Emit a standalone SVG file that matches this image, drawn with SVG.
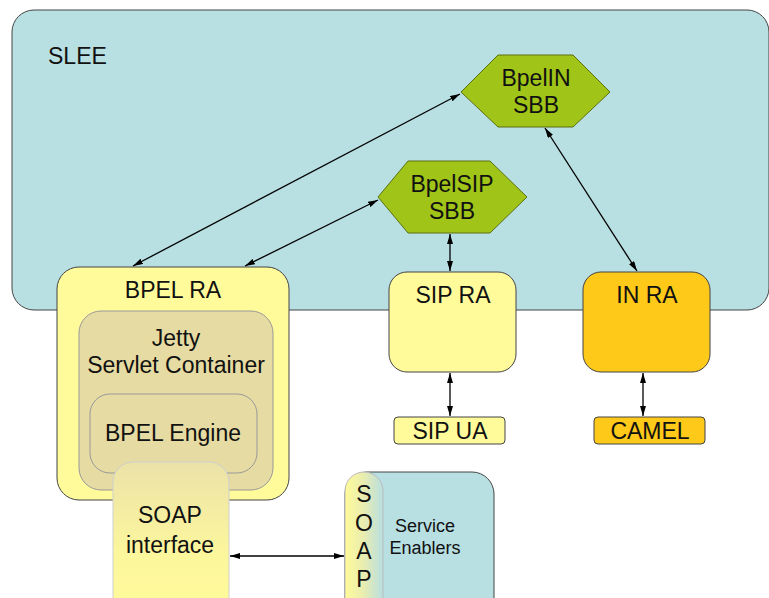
<svg xmlns="http://www.w3.org/2000/svg" width="769" height="598" viewBox="0 0 769 598">
<defs>
<marker id="ah" viewBox="0 0 10 6" refX="10" refY="3" markerWidth="10" markerHeight="6" markerUnits="userSpaceOnUse" orient="auto-start-reverse">
<path d="M0,0 L10,3 L0,6 z" fill="#000"/>
</marker>
<linearGradient id="soapV" x1="0" y1="0" x2="0" y2="1">
<stop offset="0" stop-color="#ebe2a8"/>
<stop offset="0.6" stop-color="#fdf79c"/>
<stop offset="1" stop-color="#fffb9a"/>
</linearGradient>
<linearGradient id="soapH" x1="0" y1="0" x2="1" y2="0">
<stop offset="0" stop-color="#fffb9a"/>
<stop offset="0.5" stop-color="#e8ecb0"/>
<stop offset="1" stop-color="#b8dfe2"/>
</linearGradient>
<style>
text{font-family:"Liberation Sans",Arial,sans-serif;fill:#111;}
.t{font-size:23px;text-anchor:middle;}
.s{font-size:18px;text-anchor:middle;}
.blue{fill:#b8dfe2;stroke:#444;stroke-width:1;}
.hex{fill:#a0c418;stroke:#5c7012;stroke-width:1;}
.yel{fill:#fffb9b;stroke:#444;stroke-width:1;}
.org{fill:#fec918;stroke:#444;stroke-width:1;}
.beige{fill:#e6dba2;stroke:#999;stroke-width:1;}
.conn{stroke:#000;stroke-width:1.3;fill:none;marker-start:url(#ah);marker-end:url(#ah);}
</style>
</defs>
<g id="slee">
<rect class="blue" x="12" y="10" width="757" height="300" rx="22"/>
<text x="48" y="64" style="font-size:23px">SLEE</text>
</g>
<g id="bpelin-sbb">
<polygon class="hex" points="461,92 498,55 573,55 610,92 573,127 498,127"/>
<text class="t" x="536" y="86">BpelIN</text>
<text class="t" x="536" y="113">SBB</text>
</g>
<g id="bpelsip-sbb">
<polygon class="hex" points="378,197 408,161 490,161 527,197 490,233 408,233"/>
<text class="t" x="452" y="192">BpelSIP</text>
<text class="t" x="452" y="219">SBB</text>
</g>
<g id="bpel-ra">
<rect class="yel" x="57" y="267" width="232" height="233" rx="22"/>
<text class="t" x="173" y="298">BPEL RA</text>
</g>
<g id="jetty">
<rect class="beige" x="79" y="311" width="194" height="179" rx="22"/>
<text class="t" x="176" y="346">Jetty</text>
<text class="t" x="176" y="373">Servlet Container</text>
</g>
<g id="bpel-engine">
<rect class="beige" x="90" y="394" width="167" height="79" rx="20"/>
<text class="t" x="173" y="441">BPEL Engine</text>
</g>
<g id="soap-interface">
<rect x="113" y="462" width="116" height="160" rx="20" fill="url(#soapV)" stroke="#cfcfcf" stroke-width="1"/>
<text class="t" x="170" y="523">SOAP</text>
<text class="t" x="170" y="553">interface</text>
</g>
<g id="sip-ra">
<rect class="yel" x="389" y="272" width="127" height="100" rx="18"/>
<text class="t" x="453" y="303">SIP RA</text>
</g>
<g id="in-ra">
<rect class="org" x="583" y="272" width="127" height="100" rx="18"/>
<text class="t" x="647" y="303">IN RA</text>
</g>
<g id="sip-ua">
<rect class="yel" x="394" y="417" width="111" height="27" rx="4"/>
<text class="t" x="450" y="439">SIP UA</text>
</g>
<g id="camel">
<rect class="org" x="594" y="417" width="111" height="27" rx="4"/>
<text class="t" x="650" y="439">CAMEL</text>
</g>
<g id="service-enablers">
<rect class="blue" x="345" y="472" width="149" height="150" rx="22"/>
<rect x="345" y="472" width="38" height="150" rx="19" fill="url(#soapH)" stroke="#bbb" stroke-width="1"/>
<text class="t" x="364" y="502">S</text>
<text class="t" x="364" y="531">O</text>
<text class="t" x="364" y="559">A</text>
<text class="t" x="364" y="587">P</text>
<text class="s" x="425" y="532">Service</text>
<text class="s" x="425" y="554">Enablers</text>
</g>
<g id="connectors">
<line class="conn" x1="133" y1="266" x2="460" y2="94"/>
<line class="conn" x1="245" y1="266" x2="378" y2="200"/>
<line class="conn" x1="545" y1="128" x2="637" y2="271"/>
<line class="conn" x1="450" y1="234" x2="450" y2="271"/>
<line class="conn" x1="450" y1="373" x2="450" y2="416"/>
<line class="conn" x1="643" y1="373" x2="643" y2="416"/>
<line class="conn" x1="230" y1="556" x2="344" y2="556"/>
</g>
</svg>
